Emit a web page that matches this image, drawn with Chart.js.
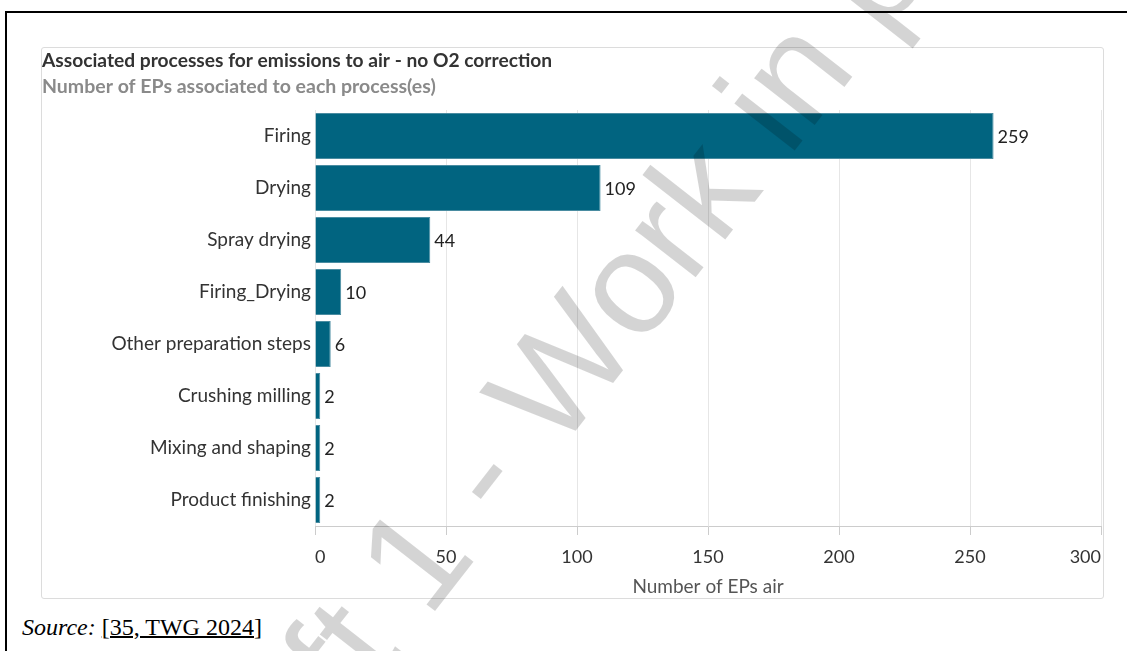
<!DOCTYPE html>
<html>
<head>
<meta charset="utf-8">
<script src="https://cdn.jsdelivr.net/npm/chart.js@4.4.1/dist/chart.umd.min.js"></script>
<style>
  html, body { margin: 0; padding: 0; background: #fff; }
  body { width: 1127px; height: 651px; position: relative; overflow: hidden; }
  #frame { position: absolute; left: 5px; top: 11px; width: 1200px; height: 700px;
           border-top: 2px solid #000; border-left: 2px solid #000; }
  #panel { position: absolute; left: 41px; top: 47px; width: 1061px; height: 550px;
           border: 1px solid #dcdcdc; border-radius: 3px; }
  #chartBox { position: absolute; left: 41px; top: 48px; width: 1071px; height: 550px; }
  #source { position: absolute; left: 22px; top: 614px; font-family: "Liberation Serif", "Times New Roman", serif;
            font-size: 24px; color: #000; white-space: nowrap; }
  #source u { text-decoration: underline; text-decoration-thickness: 1.5px; }
  #wm { position: absolute; left: 0; top: 0; pointer-events: none; }
</style>
</head>
<body>
<div id="frame"></div>
<div id="panel"></div>
<div id="chartBox"><canvas id="chart" width="1071" height="550"></canvas></div>
<div id="source"><i>Source:</i> <u>[35, TWG 2024]</u></div>
<canvas id="wm" width="1127" height="651"></canvas>
<script>
// data
const processes = ['Firing', 'Drying', 'Spray drying', 'Firing_Drying', 'Other preparation steps',
                   'Crushing milling', 'Mixing and shaping', 'Product finishing'];
const epCounts = [259, 109, 44, 10, 6, 2, 2, 2];
const xMin = 0, xMax = 300, xStep = 50;

const chartTitle = 'Associated processes for emissions to air - no O2 correction';
const chartSubtitle = 'Number of EPs associated to each process(es)';
const xTitle = 'Number of EPs air';

const FONT = 'Lato, "Noto Sans", sans-serif';

// labels at the end of each bar
const valueLabels = {
    id: 'valueLabels',
    afterDatasetsDraw(chart) {
        const ctx = chart.ctx;
        const meta = chart.getDatasetMeta(0);
        ctx.save();
        ctx.font = '18px ' + FONT;
        ctx.fillStyle = '#222';
        ctx.textAlign = 'left';
        ctx.textBaseline = 'middle';
        meta.data.forEach((bar, i) => {
            ctx.fillText(String(epCounts[i]), bar.x + 4, bar.y + 1);
        });
        ctx.restore();
    }
};

const ctx = document.getElementById('chart').getContext('2d');
const myChart = new Chart(ctx, {
    type: 'bar',
    data: {
        labels: processes,
        datasets: [{
            data: epCounts,
            backgroundColor: '#016480',
            borderColor: '#4a8ca1',
            borderWidth: 1,
            barPercentage: 0.885,
            categoryPercentage: 1
        }]
    },
    plugins: [valueLabels],
    options: {
        indexAxis: 'y',
        responsive: false,
        animation: false,
        layout: { padding: { left: 1, top: 1, right: 11, bottom: 0 } },
        plugins: {
            legend: { display: false },
            tooltip: { enabled: false },
            title: {
                display: true, text: chartTitle, align: 'start', color: '#333',
                font: { family: FONT, size: 19.2, weight: 'bold' },
                padding: { top: 0, bottom: 0 }
            },
            subtitle: {
                display: true, text: chartSubtitle, align: 'start', color: '#8a8a8a',
                font: { family: FONT, size: 19.5, weight: 'bold' },
                padding: { top: 3.3, bottom: 11.3 }
            }
        },
        scales: {
            x: {
                min: xMin, max: xMax,
                ticks: { stepSize: xStep, color: '#333', font: { family: FONT, size: 18 }, padding: 11, align: 'inner' },
                grid: { color: '#e6e6e6', tickColor: '#cccccc', tickLength: 9 },
                border: { color: '#cccccc' },
                title: { display: true, text: xTitle, color: '#555', font: { family: FONT, size: 19 }, padding: 0 },
                afterFit: s => { s.height = 72; }
            },
            y: {
                ticks: { color: '#333', font: { family: FONT, size: 19 }, padding: 4 },
                grid: { display: false, drawTicks: false },
                border: { display: false },
                afterFit: s => { s.width = 273; }
            }
        }
    }
});

// "Draft" watermark over the whole page
const wm = document.getElementById('wm').getContext('2d');
wm.save();
wm.translate(210, 899);
wm.rotate(-52 * Math.PI / 180);
wm.font = '145px "Liberation Sans", Arial, sans-serif';
wm.fillStyle = 'rgba(0,0,0,0.17)';
wm.textAlign = 'left';
wm.textBaseline = 'alphabetic';
wm.fillText('Draft 1 - Work in progress', 0, 0);
wm.restore();
</script>
</body>
</html>
